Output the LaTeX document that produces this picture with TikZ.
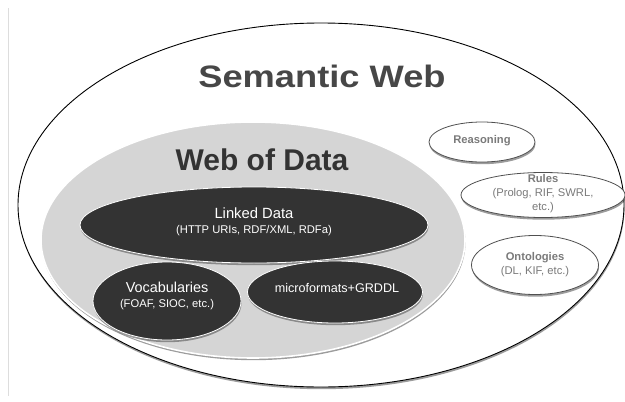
\documentclass[tikz,border=0pt]{standalone}
\usepackage{fontspec}
\setmainfont{Liberation Sans}
\usetikzlibrary{shapes.geometric,shadows}
\definecolor{darkfill}{HTML}{333333}
\definecolor{midfill}{HTML}{D5D5D5}
\definecolor{sidetext}{HTML}{7A7A7A}
\definecolor{sideline}{HTML}{505050}
\definecolor{rule}{HTML}{DDDDDD}
\begin{document}
\begin{tikzpicture}[x=1pt,y=-1pt,
  ell/.style args={#1/#2}{ellipse, inner sep=0pt, minimum width=#1pt, minimum height=#2pt},
  shad/.style={drop shadow={shadow xshift=0.5pt, shadow yshift=-2.2pt, opacity=0.55, fill=black!70}},
  outerell/.style={draw=black, line width=0.9pt, fill=white, shad},
  midell/.style={draw=white, line width=1.6pt, fill=midfill, shad},
  darkell/.style={draw=white, line width=0.8pt, fill=darkfill, shad},
  sideell/.style={draw=sideline, line width=0.8pt, fill=white, shad},
  bigtitle/.style={font=\bfseries\fontsize{31}{34}\selectfont, text=black!72, xscale=1.17, transform shape},
  midtitle/.style={font=\bfseries\fontsize{30}{32}\selectfont, text=black!80},
  darktext/.style={text=white, align=center, inner sep=0pt},
  sidetxt/.style={text=sidetext, align=center, inner sep=0pt, font=\fontsize{11.2}{14}\selectfont},
]
\useasboundingbox (0,0) rectangle (625,402);
\fill[white] (0,0) rectangle (625,402);
\draw[rule, line width=1pt] (8,8) -- (8,396);

\node[outerell, ell=606/364] (sw) at (321,205) {};
\node[bigtitle] (swt) at (322,76) {Semantic Web};

\node[midell, ell=424/236] (wod) at (253,240) {};
\node[midtitle] (wodt) at (262,160) {Web of Data};

\node[darkell, ell=348/76] (ld) at (254,225) {};
\node[darktext] (ldt) at (254,222) {{\fontsize{14.8}{16}\selectfont Linked Data}\\[3.5pt]{\fontsize{11.2}{13}\selectfont (HTTP URIs, RDF/XML, RDFa)}};

\node[darkell, ell=148/78] (voc) at (167,301) {};
\node[darktext] (voct) at (167,296) {{\fontsize{14.4}{16}\selectfont Vocabularies}\\[3.5pt]{\fontsize{11.2}{13}\selectfont (FOAF, SIOC, etc.)}};

\node[darkell, ell=175/62] (mf) at (335,292) {};
\node[darktext, font=\fontsize{12.6}{14}\selectfont] (mft) at (337,288) {microformats+GRDDL};

\node[sideell, ell=106/40] (rea) at (482,142) {};
\node[sidetxt, font=\bfseries\fontsize{11.2}{14}\selectfont] (reat) at (482,141) {Reasoning};

\node[sideell, ell=164/45] (rul) at (543,195) {};
\node[sidetxt] (rult) at (543,194) {\textbf{Rules}\\(Prolog, RIF, SWRL,\\etc.)};

\node[sideell, ell=127/59] (ont) at (535,265) {};
\node[sidetxt] (ontt) at (535,265) {\textbf{Ontologies}\\(DL, KIF, etc.)};
\end{tikzpicture}
\end{document}
